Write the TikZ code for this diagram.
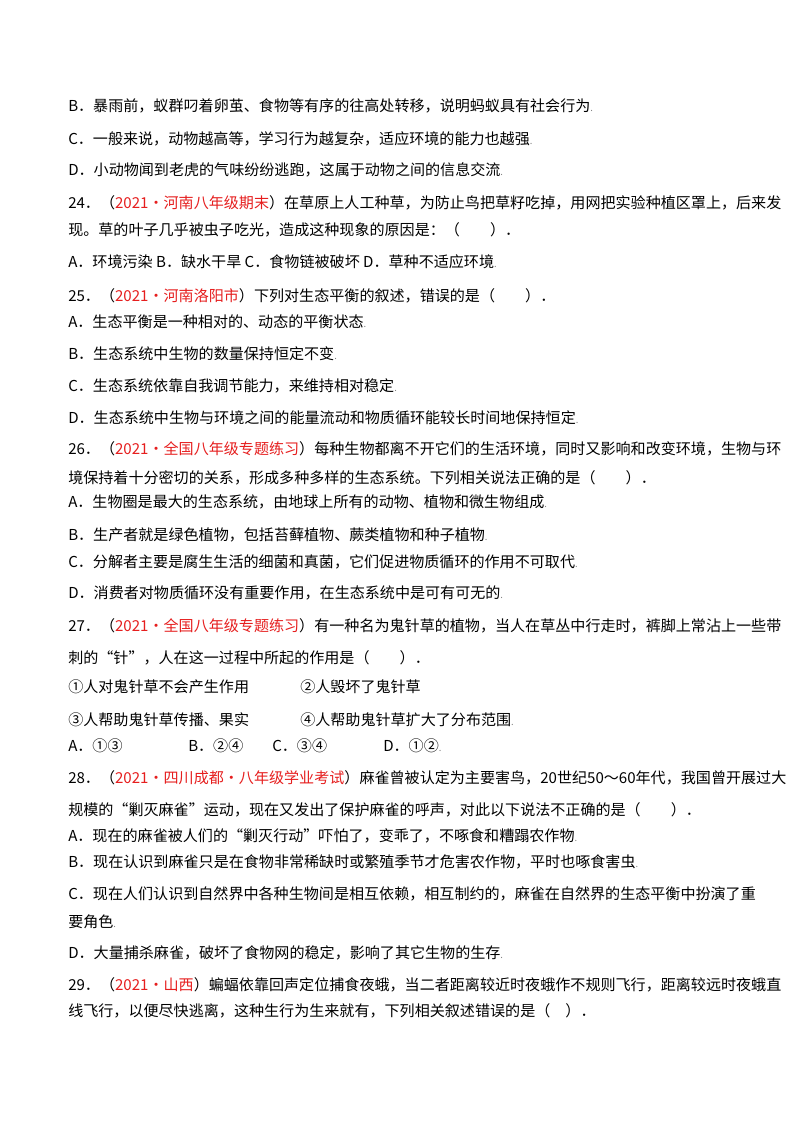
\documentclass[tikz,border=0pt]{standalone}
\usepackage{fontspec}
\setmainfont{Noto Sans CJK SC}
\definecolor{srcred}{RGB}{230,30,30}
\newcommand{\src}[1]{（\textcolor{srcred}{#1}）}
\newcommand{\pmark}{\textcolor{gray}{\scriptsize .}}
\tikzset{
  txt/.style={anchor=west, inner sep=0pt, font=\fontsize{11.3pt}{13pt}\selectfont},
}
\begin{document}
\begin{tikzpicture}[x=0.75pt,y=-0.75pt]
  \useasboundingbox[fill=white] (0,0) rectangle (800,1132);
  \node[txt] (l1) at (68,106) {B．暴雨前，蚁群叼着卵茧、食物等有序的往高处转移，说明蚂蚁具有社会行为\pmark};
  \node[txt] (l2) at (68,139) {C．一般来说，动物越高等，学习行为越复杂，适应环境的能力也越强\pmark};
  \node[txt] (l3) at (68,170) {D．小动物闻到老虎的气味纷纷逃跑，这属于动物之间的信息交流\pmark};
  \node[txt] (q24) at (68,203) {24．\src{2021·河南八年级期末}在草原上人工种草，为防止鸟把草籽吃掉，用网把实验种植区罩上，后来发};
  \node[txt] (q24b) at (68,230) {现。草的叶子几乎被虫子吃光，造成这种现象的原因是：（\quad\quad ）．};
  \node[txt] (q24a) at (68,262) {A．环境污染 B．缺水干旱 C．食物链被破坏 D．草种不适应环境\pmark};
  \node[txt] (q25) at (68,296) {25．\src{2021·河南洛阳市}下列对生态平衡的叙述，错误的是（\quad\quad ）．};
  \node[txt] (q25a) at (68,322) {A．生态平衡是一种相对的、动态的平衡状态\pmark};
  \node[txt] (q25b) at (68,354) {B．生态系统中生物的数量保持恒定不变\pmark};
  \node[txt] (q25c) at (68,386) {C．生态系统依靠自我调节能力，来维持相对稳定\pmark};
  \node[txt] (q25d) at (68,418) {D．生态系统中生物与环境之间的能量流动和物质循环能较长时间地保持恒定\pmark};
  \node[txt] (q26) at (68,449) {26．\src{2021·全国八年级专题练习}每种生物都离不开它们的生活环境，同时又影响和改变环境，生物与环};
  \node[txt] (q26b) at (68,478) {境保持着十分密切的关系，形成多种多样的生态系统。下列相关说法正确的是（\quad\quad ）．};
  \node[txt] (q26a) at (68,502) {A．生物圈是最大的生态系统，由地球上所有的动物、植物和微生物组成\pmark};
  \node[txt] (q26bb) at (68,535) {B．生产者就是绿色植物，包括苔藓植物、蕨类植物和种子植物\pmark};
  \node[txt] (q26c) at (68,562) {C．分解者主要是腐生生活的细菌和真菌，它们促进物质循环的作用不可取代\pmark};
  \node[txt] (q26d) at (68,593) {D．消费者对物质循环没有重要作用，在生态系统中是可有可无的\pmark};
  \node[txt] (q27) at (68,626) {27．\src{2021·全国八年级专题练习}有一种名为鬼针草的植物，当人在草丛中行走时，裤脚上常沾上一些带};
  \node[txt] (q27b) at (68,658) {刺的“针”，人在这一过程中所起的作用是（\quad\quad ）．};
  \node[txt] (o1) at (68,687) {①人对鬼针草不会产生作用};
  \node[txt] (o2) at (300,687) {②人毁坏了鬼针草};
  \node[txt] (o3) at (68,720) {③人帮助鬼针草传播、果实};
  \node[txt] (o4) at (300,720) {④人帮助鬼针草扩大了分布范围\pmark};
  \node[txt] (q27a) at (68,746) {A．①③};
  \node[txt] (q27bb) at (188,746) {B．②④};
  \node[txt] (q27c) at (272,746) {C．③④};
  \node[txt] (q27d) at (383,746) {D．①②\pmark};
  \node[txt] (q28) at (68,778) {28．\src{2021·四川成都·八年级学业考试}麻雀曾被认定为主要害鸟，20世纪50～60年代，我国曾开展过大};
  \node[txt] (q28b) at (68,810) {规模的“剿灭麻雀”运动，现在又发出了保护麻雀的呼声，对此以下说法不正确的是（\quad\quad ）．};
  \node[txt] (q28a) at (68,836) {A．现在的麻雀被人们的“剿灭行动”吓怕了，变乖了，不啄食和糟蹋农作物\pmark};
  \node[txt] (q28bb) at (68,862) {B．现在认识到麻雀只是在食物非常稀缺时或繁殖季节才危害农作物，平时也啄食害虫\pmark};
  \node[txt] (q28c) at (68,894) {C．现在人们认识到自然界中各种生物间是相互依赖，相互制约的，麻雀在自然界的生态平衡中扮演了重};
  \node[txt] (q28c2) at (68,922) {要角色\pmark};
  \node[txt] (q28d) at (68,953) {D．大量捕杀麻雀，破坏了食物网的稳定，影响了其它生物的生存\pmark};
  \node[txt] (q29) at (68,985) {29．\src{2021·山西}蝙蝠依靠回声定位捕食夜蛾，当二者距离较近时夜蛾作不规则飞行，距离较远时夜蛾直};
  \node[txt] (q29b) at (68,1011) {线飞行，以便尽快逃离，这种生行为生来就有，下列相关叙述错误的是（\quad ）．};
\end{tikzpicture}
\end{document}
